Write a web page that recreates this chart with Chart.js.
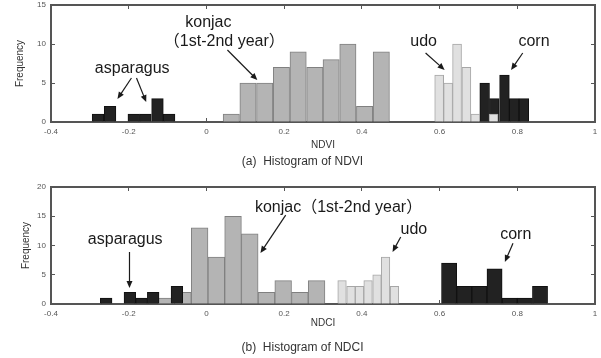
<!DOCTYPE html>
<html>
<head>
<meta charset="utf-8">
<script src="https://cdn.jsdelivr.net/npm/chart.js@4.4.1/dist/chart.umd.min.js"></script>
<style>
  body { margin: 0; background: #fff; width: 601px; height: 358px; position: relative; overflow: hidden; font-family: 'Liberation Sans', Arial, sans-serif; }
  #ndviWrap { position: absolute; left: 0; top: 0; width: 601px; height: 155px; }
  #ndciWrap { position: absolute; left: 0; top: 170px; width: 601px; height: 170px; }
  .caption { position: absolute; left: 2px; width: 601px; text-align: center; font-size: 12px; color: #333; }
</style>
</head>
<body>
<div id="ndviWrap"><canvas id="ndviChart" width="601" height="155"></canvas></div>
<div class="caption" style="top:154px">(a)&nbsp; Histogram of NDVI</div>
<div id="ndciWrap"><canvas id="ndciChart" width="601" height="170"></canvas></div>
<div class="caption" style="top:340px">(b)&nbsp; Histogram of NDCI</div>
<script>
// Axis settings
const xMin = -0.4, xMax = 1, xStep = 0.2;
const ndviYMax = 15, ndciYMax = 20, yStep = 5;

// NDVI histogram (bin centres and counts)
const ndviAsparagusBins = [-0.279, -0.248, -0.187, -0.157, -0.126, -0.096];
const ndviAsparagusCounts = [1, 2, 1, 1, 3, 1];
const ndviKonjacBins = [0.064, 0.107, 0.150, 0.193, 0.236, 0.279, 0.321, 0.364, 0.407, 0.450];
const ndviKonjacCounts = [1, 5, 5, 7, 9, 7, 8, 10, 2, 9];
const ndviUdoBins = [0.599, 0.622, 0.645, 0.669, 0.692, 0.739];
const ndviUdoCounts = [6, 5, 10, 7, 1, 1];
const ndviCornBins = [0.716, 0.741, 0.767, 0.792, 0.817];
const ndviCornCounts = [5, 3, 6, 3, 3];

// NDCI histogram
const ndciAsparagusBins = [-0.258, -0.197, -0.167, -0.137, -0.076];
const ndciAsparagusCounts = [1, 2, 1, 2, 3];
const ndciKonjacBins = [-0.1035, -0.0605, -0.0175, 0.0255, 0.0685, 0.1115, 0.1545, 0.1975, 0.2405, 0.2835];
const ndciKonjacCounts = [1, 2, 13, 8, 15, 12, 2, 4, 2, 4];
const ndciUdoBins = [0.349, 0.372, 0.394, 0.416, 0.439, 0.461, 0.484];
const ndciUdoCounts = [4, 3, 3, 4, 5, 8, 3];
const ndciCornBins = [0.6245, 0.6635, 0.7025, 0.7415, 0.7805, 0.8195, 0.8585];
const ndciCornCounts = [7, 3, 3, 6, 1, 1, 3];

const tickFont = { family: 'Liberation Sans', size: 8 };
const frame = { display: true, color: '#555', width: 2 };

function histDataset(label, bins, counts, xAxisID, fill, border, order) {
  return {
    label: label,
    data: bins.map((b, i) => ({ x: b, y: counts[i] })),
    xAxisID: xAxisID,
    yAxisID: 'y',
    grouped: false,
    barPercentage: 1,
    categoryPercentage: 1,
    backgroundColor: fill,
    borderColor: border,
    borderWidth: 1,
    borderSkipped: 'start',
    order: order
  };
}

function hiddenX() {
  return { type: 'linear', display: false, offset: false, min: xMin, max: xMax };
}

// fixed axis sizes, no extra padding for overhanging tick labels
function fixSize(key, value) {
  return sc => {
    sc[key] = value;
    sc.paddingTop = 0; sc.paddingBottom = 0; sc.paddingLeft = 0; sc.paddingRight = 0;
  };
}

function buildScales(yMax, xTitle, s) {
  return {
    x: {
      type: 'linear', position: 'bottom', offset: false, min: xMin, max: xMax,
      afterFit: fixSize('height', s.bottomH),
      border: frame,
      grid: { offset: false, drawOnChartArea: false, tickLength: -4, color: '#555' },
      ticks: { stepSize: xStep, font: tickFont, color: '#555', padding: 9, maxRotation: 0,
               callback: v => String(+v.toFixed(1)) },
      title: { display: true, text: xTitle, font: { family: 'Liberation Sans', size: 10 }, color: '#333',
               padding: { top: 0, bottom: s.titlePad } }
    },
    x2: hiddenX(), x3: hiddenX(), x4: hiddenX(),
    xTop: {
      type: 'linear', position: 'top', offset: false, min: xMin, max: xMax,
      afterFit: fixSize('height', s.topH),
      border: frame,
      grid: { offset: false, drawOnChartArea: false, tickLength: -4, color: '#555' },
      ticks: { stepSize: xStep, display: false }
    },
    y: {
      type: 'linear', position: 'left', min: 0, max: yMax,
      afterFit: fixSize('width', 51),
      border: frame,
      grid: { drawOnChartArea: false, tickLength: -4, color: '#555' },
      ticks: { stepSize: yStep, font: tickFont, color: '#555', padding: 9 },
      title: { display: true, text: 'Frequency', font: { family: 'Liberation Sans', size: 10 }, color: '#333',
               padding: { top: s.yTitlePad, bottom: 0 } }
    },
    yRight: {
      type: 'linear', position: 'right', min: 0, max: yMax,
      afterFit: fixSize('width', 6),
      border: frame,
      grid: { drawOnChartArea: false, tickLength: -4, color: '#555' },
      ticks: { stepSize: yStep, display: false }
    }
  };
}

// labels with arrows, given in axis values
function notesPlugin(notes) {
  return {
    id: 'notes',
    afterDatasetsDraw(chart) {
      const ctx = chart.ctx, xs = chart.scales.x, ys = chart.scales.y;
      ctx.save();
      ctx.fillStyle = '#1a1a1a';
      ctx.strokeStyle = '#1a1a1a';
      ctx.lineWidth = 1.2;
      ctx.font = '16px "Liberation Sans", "Noto Sans CJK JP", sans-serif';
      ctx.textAlign = 'center';
      ctx.textBaseline = 'middle';
      notes.forEach(n => {
        ctx.fillText(n.text, xs.getPixelForValue(n.x), ys.getPixelForValue(n.y));
        (n.arrows || []).forEach(a => {
          const x1 = xs.getPixelForValue(a[0]), y1 = ys.getPixelForValue(a[1]);
          const x2 = xs.getPixelForValue(a[2]), y2 = ys.getPixelForValue(a[3]);
          const ang = Math.atan2(y2 - y1, x2 - x1), c = Math.cos(ang), sn = Math.sin(ang);
          ctx.beginPath();
          ctx.moveTo(x1, y1);
          ctx.lineTo(x2 - 5 * c, y2 - 5 * sn);
          ctx.stroke();
          ctx.beginPath();
          ctx.moveTo(x2, y2);
          ctx.lineTo(x2 - 7 * c + 3 * sn, y2 - 7 * sn - 3 * c);
          ctx.lineTo(x2 - 7 * c - 3 * sn, y2 - 7 * sn + 3 * c);
          ctx.closePath();
          ctx.fill();
        });
      });
      ctx.restore();
    }
  };
}

function createChart(id, datasets, yMax, xTitle, sizes, notes) {
  const ctx = document.getElementById(id).getContext('2d');
  return new Chart(ctx, {
    type: 'bar',
    data: { datasets: datasets },
    options: {
      responsive: false,
      animation: false,
      devicePixelRatio: 1,
      layout: { padding: 0 },
      plugins: { legend: { display: false }, tooltip: { enabled: false } },
      scales: buildScales(yMax, xTitle, sizes)
    },
    plugins: [notesPlugin(notes)]
  });
}

function createNdviChart() {
  const datasets = [
    histDataset('asparagus', ndviAsparagusBins, ndviAsparagusCounts, 'x', '#222', '#111', 0),
    histDataset('konjac', ndviKonjacBins, ndviKonjacCounts, 'x2', '#b4b4b4', '#808080', 1),
    histDataset('udo', ndviUdoBins, ndviUdoCounts, 'x3', '#e0e0e0', '#a6a6a6', 0),
    histDataset('corn', ndviCornBins, ndviCornCounts, 'x4', '#222', '#111', 1)
  ];
  const notes = [
    { text: 'asparagus', x: -0.191, y: 6.9, arrows: [[-0.193, 5.64, -0.229, 2.95], [-0.180, 5.64, -0.155, 2.56]] },
    { text: 'konjac', x: 0.005, y: 12.7 },
    { text: '（1st-2nd year）', x: 0.046, y: 10.26, arrows: [[0.054, 9.23, 0.131, 5.38]] },
    { text: 'udo', x: 0.559, y: 10.26, arrows: [[0.564, 8.85, 0.613, 6.67]] },
    { text: 'corn', x: 0.843, y: 10.26, arrows: [[0.814, 8.85, 0.784, 6.67]] }
  ];
  createChart('ndviChart', datasets, ndviYMax, 'NDVI',
    { topH: 5, bottomH: 33, titlePad: 4, yTitlePad: 14 }, notes);
}

function createNdciChart() {
  const datasets = [
    histDataset('asparagus', ndciAsparagusBins, ndciAsparagusCounts, 'x', '#222', '#111', 0),
    histDataset('konjac', ndciKonjacBins, ndciKonjacCounts, 'x2', '#b4b4b4', '#808080', 1),
    histDataset('udo', ndciUdoBins, ndciUdoCounts, 'x3', '#e0e0e0', '#a6a6a6', 0),
    histDataset('corn', ndciCornBins, ndciCornCounts, 'x4', '#222', '#111', 1)
  ];
  const notes = [
    { text: 'asparagus', x: -0.209, y: 10.94, arrows: [[-0.198, 8.89, -0.198, 2.74]] },
    { text: 'konjac（1st-2nd year）', x: 0.34, y: 16.4, arrows: [[0.204, 15.2, 0.139, 8.7]] },
    { text: 'udo', x: 0.534, y: 12.65, arrows: [[0.5, 11.45, 0.479, 8.89]] },
    { text: 'corn', x: 0.796, y: 11.8, arrows: [[0.789, 10.4, 0.768, 7.18]] }
  ];
  createChart('ndciChart', datasets, ndciYMax, 'NDCI',
    { topH: 17, bottomH: 36, titlePad: 11, yTitlePad: 20 }, notes);
}

window.onload = function() {
  createNdviChart();
  createNdciChart();
};
</script>
</body>
</html>
